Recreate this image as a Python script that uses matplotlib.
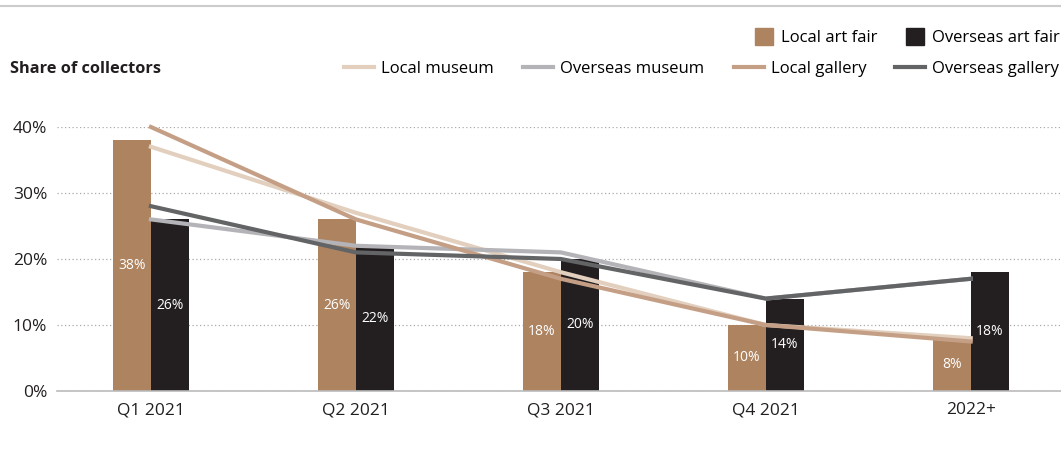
import matplotlib.pyplot as plt
from matplotlib.lines import Line2D
from matplotlib.patches import Patch
import numpy as np

plt.rcParams['font.family'] = ['Open Sans', 'DejaVu Sans']

periods = ["Q1 2021", "Q2 2021", "Q3 2021", "Q4 2021", "2022+"]
local_art_fair = [38, 26, 18, 10, 8]
overseas_art_fair = [26, 22, 20, 14, 18]

local_museum = [37, 27, 18, 10, 8]
overseas_museum = [26, 22, 21, 14, 17]
local_gallery = [40, 26, 17, 10, 7.5]
overseas_gallery = [28, 21, 20, 14, 17]

c_fair_local = "#ad8360"
c_fair_over = "#231f20"
c_museum_local = "#e2cfbd"
c_museum_over = "#b4b4b8"
c_gallery_local = "#c49f85"
c_gallery_over = "#636466"

fig = plt.figure(figsize=(10.61, 4.55), dpi=100)
ax = fig.add_axes([0.0537, 0.1407, 0.946, 0.5802])

x = np.arange(len(periods))
w = 0.185
b1 = ax.bar(x - w / 2, local_art_fair, w, color=c_fair_local, zorder=2)
b2 = ax.bar(x + w / 2, overseas_art_fair, w, color=c_fair_over, zorder=2)

for bars, vals in [(b1, local_art_fair), (b2, overseas_art_fair)]:
    for r, v in zip(bars, vals):
        ax.text(r.get_x() + r.get_width() / 2, v / 2, f"{v}%", ha="center", va="center",
                color="white", fontsize=10, zorder=5)

lw = 3
ax.plot(x, local_museum, color=c_museum_local, lw=lw, zorder=3, clip_on=False)
ax.plot(x, overseas_museum, color=c_museum_over, lw=lw, zorder=3, clip_on=False)
ax.plot(x, local_gallery, color=c_gallery_local, lw=lw, zorder=3, clip_on=False)
ax.plot(x, overseas_gallery, color=c_gallery_over, lw=lw, zorder=3, clip_on=False)

ax.set_xlim(-0.4585, 4.439)
ax.set_ylim(0, 40)
ax.set_yticks([0, 10, 20, 30, 40])
ax.set_yticklabels(["0%", "10%", "20%", "30%", "40%"])
ax.set_xticks(x)
ax.set_xticklabels(periods)
ax.tick_params(length=0, labelsize=12.5, colors="#231f20")
ax.tick_params(axis="y", pad=7)
ax.tick_params(axis="x", pad=8)
ax.yaxis.grid(True, linestyle=(0, (1, 2)), color="#aaaaaa", lw=0.9, zorder=0)
for s in ["top", "right", "left"]:
    ax.spines[s].set_visible(False)
ax.spines["bottom"].set_color("#bbbbbb")
ax.spines["bottom"].set_linewidth(1.2)

# top rule
fig.add_artist(Line2D([0.0, 1.0], [1 - 6 / 455, 1 - 6 / 455], color="#cccccc", lw=1.5))

fig.text(10 / 1061, 1 - 69 / 455, "Share of collectors", fontsize=11.8, fontweight="bold",
         va="center", ha="left", color="#231f20")

bar_handles = [Patch(color=c_fair_local), Patch(color=c_fair_over)]
fig.legend(bar_handles, ["Local art fair", "Overseas art fair"], ncol=2,
           loc="center right", bbox_to_anchor=(1.0, 1 - 37 / 455), frameon=False,
           fontsize=12, handlelength=1.08, handleheight=1.2, columnspacing=1.7,
           handletextpad=0.48, borderaxespad=0, borderpad=0.1)
line_handles = [Line2D([], [], color=c, lw=3) for c in
                [c_museum_local, c_museum_over, c_gallery_local, c_gallery_over]]
fig.legend(line_handles, ["Local museum", "Overseas museum", "Local gallery", "Overseas gallery"],
           ncol=4, loc="center right", bbox_to_anchor=(1.0, 1 - 69 / 455), frameon=False,
           fontsize=12, handlelength=1.8, columnspacing=1.75, handletextpad=0.42,
           borderaxespad=0, borderpad=0.1)

fig.savefig("out.png", dpi=100)
